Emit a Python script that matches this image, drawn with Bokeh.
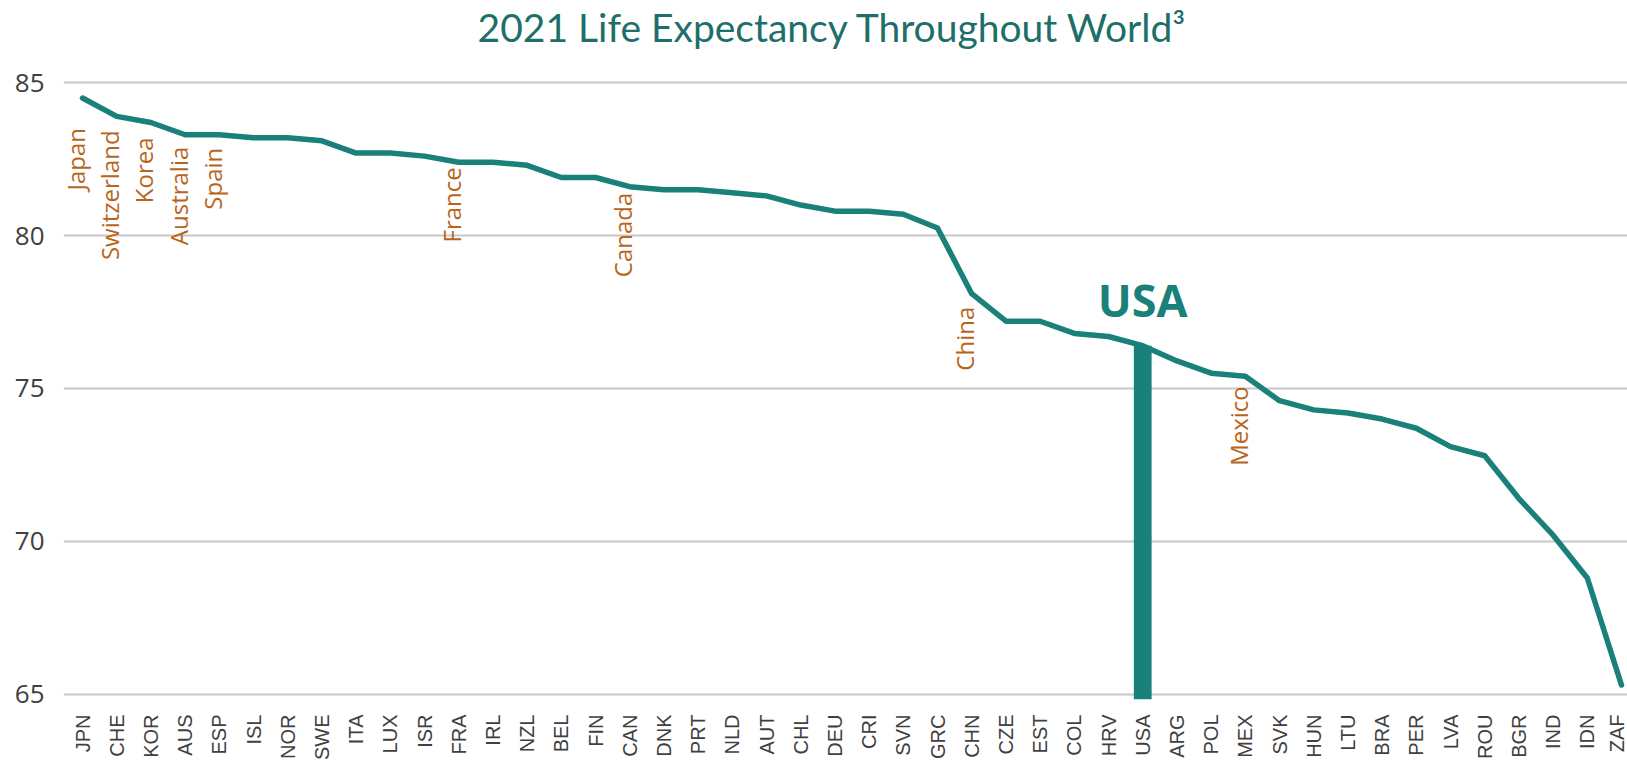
import math
from bokeh.plotting import figure
from bokeh.models import ColumnDataSource, FixedTicker, Range1d, Label
from bokeh.core.properties import value
from bokeh.embed import file_html
from bokeh.resources import INLINE

# ---- data ----
countries = ["JPN", "CHE", "KOR", "AUS", "ESP", "ISL", "NOR", "SWE", "ITA", "LUX",
             "ISR", "FRA", "IRL", "NZL", "BEL", "FIN", "CAN", "DNK", "PRT", "NLD",
             "AUT", "CHL", "DEU", "CRI", "SVN", "GRC", "CHN", "CZE", "EST", "COL",
             "HRV", "USA", "ARG", "POL", "MEX", "SVK", "HUN", "LTU", "BRA", "PER",
             "LVA", "ROU", "BGR", "IND", "IDN", "ZAF"]
life_exp = [84.5, 83.9, 83.7, 83.3, 83.3, 83.2, 83.2, 83.1, 82.7, 82.7,
            82.6, 82.4, 82.4, 82.3, 81.9, 81.9, 81.6, 81.5, 81.5, 81.4,
            81.3, 81.0, 80.8, 80.8, 80.7, 80.25, 78.1, 77.2, 77.2, 76.8,
            76.7, 76.4, 75.9, 75.5, 75.4, 74.6, 74.3, 74.2, 74.0, 73.7,
            73.1, 72.8, 71.4, 70.2, 68.8, 65.3]
y_ticks = [65, 70, 75, 80, 85]
named_codes = ["JPN", "CHE", "KOR", "AUS", "ESP", "FRA", "CAN", "CHN", "MEX"]
named_names = ["Japan", "Switzerland", "Korea", "Australia", "Spain", "France", "Canada", "China", "Mexico"]
highlight = "USA"
title_text = "2021 Life Expectancy Throughout World\u00b3"

# ---- styling / placement (not data) ----
name_drop_px = [30, 14, 15, 12, 13, 5, 6, 13, 10]
TEAL = "#1A807A"
TITLE_C = "#1E6E69"
ORANGE = "#B8651B"
GRID = "#C8C8C8"
TXT = "#404040"

xs = list(range(len(countries)))
idx = {c: i for i, c in enumerate(countries)}

Y_TOP = 87.69  # frame reaches canvas top; title sits in the headroom above 85
p = figure(width=1627, height=763, output_backend="svg", toolbar_location=None,
           x_range=Range1d(-0.556, 45.175), y_range=Range1d(64.827, Y_TOP),
           min_border_left=63, min_border_right=0, min_border_top=0, min_border_bottom=61)
p.outline_line_color = None
p.background_fill_color = "white"
p.border_fill_color = "white"

# title (Label annotation, placed in the headroom above the top gridline)
p.add_layout(Label(x=11.55, y=86.82, x_units="data", y_units="data",
                   text=title_text, text_font="Lato", text_font_size="39px",
                   text_color=TITLE_C, text_align="left", text_baseline="alphabetic"))

# axes
p.xaxis.ticker = FixedTicker(ticks=xs)
p.xaxis.major_label_overrides = {i: c for i, c in enumerate(countries)}
p.xaxis.major_label_orientation = math.pi / 2
p.xaxis.major_label_text_font = "Liberation Sans"
p.xaxis.major_label_text_font_size = "20px"
p.xaxis.major_label_text_color = TXT
p.xaxis.major_label_standoff = 9
p.xaxis.axis_line_color = None
p.xaxis.major_tick_line_color = None
p.xaxis.minor_tick_line_color = None

p.yaxis.ticker = FixedTicker(ticks=y_ticks)
p.yaxis.major_label_text_font = "Open Sans"
p.yaxis.major_label_text_font_size = "26px"
p.yaxis.major_label_text_color = TXT
p.yaxis.major_label_standoff = 13
p.yaxis.axis_line_color = None
p.yaxis.major_tick_line_color = None
p.yaxis.minor_tick_line_color = None

p.xgrid.grid_line_color = None
p.ygrid.grid_line_color = GRID
p.ygrid.grid_line_width = 2.2
p.ygrid.ticker = FixedTicker(ticks=y_ticks)

# highlight bar for USA
ui = idx[highlight]
p.vbar(x=[ui], top=[life_exp[ui]], bottom=p.y_range.start, width=0.52,
       fill_color=TEAL, line_color=None)

# main line
src = ColumnDataSource(dict(x=xs, y=life_exp))
p.line("x", "y", source=src, line_color=TEAL, line_width=5.5,
       line_join="round", line_cap="round")

# USA label
p.text(x=[ui], y=[life_exp[ui]], text=[highlight], y_offset=-46,
       text_align="center", text_baseline="alphabetic",
       text_font=value("Open Sans"), text_font_style="bold",
       text_font_size="45px", text_color=TEAL)

# country name annotations
for code, name, drop in zip(named_codes, named_names, name_drop_px):
    i = idx[code]
    p.text(x=[i], y=[life_exp[i]], text=[name], angle=math.pi / 2,
           x_offset=-7, y_offset=drop,
           text_align="right", text_baseline="middle",
           text_font=value("Open Sans"), text_font_size="24px",
           text_color=ORANGE)

open("out.html", "w").write(file_html(p, INLINE))
